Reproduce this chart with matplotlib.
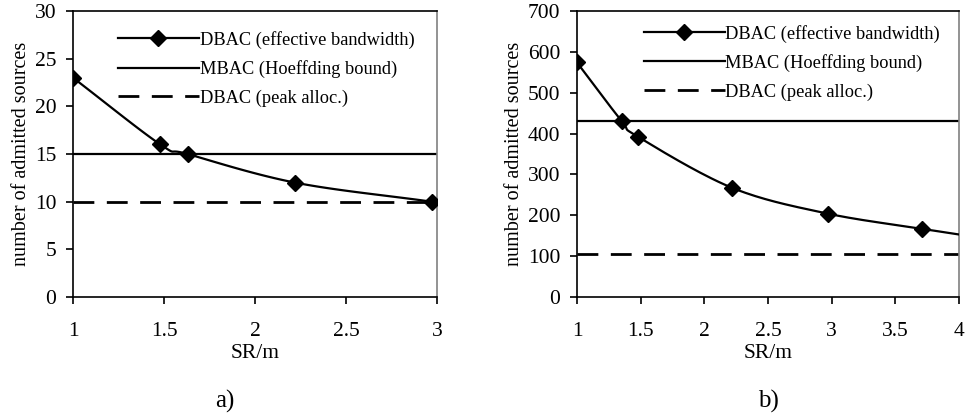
import numpy as np
import matplotlib
matplotlib.use("Agg")
import matplotlib.pyplot as plt

plt.rcParams['font.family'] = ['Liberation Serif', 'DejaVu Serif']

# panel a)
a_sr = [1.0, 1.48, 1.63, 2.22, 2.97]
a_dbac = [23, 16, 15, 12, 10]
a_mbac = 15
a_peak = 10

# panel b)  (last point at x=4 is drawn without a marker)
b_sr = [1.0, 1.35, 1.48, 2.22, 2.97, 3.71, 4.0]
b_dbac = [574, 431, 392, 267, 204, 167, 153]
b_mbac = 430
b_peak = 106

labels = ["DBAC (effective bandwidth)", "MBAC (Hoeffding bound)", "DBAC (peak alloc.)"]


def smooth(x, y, n=30):
    # Catmull-Rom through the points, like the spreadsheet "smoothed line"
    x = np.asarray(x, float)
    y = np.asarray(y, float)
    px = np.concatenate([[2 * x[0] - x[1]], x, [2 * x[-1] - x[-2]]])
    py = np.concatenate([[2 * y[0] - y[1]], y, [2 * y[-1] - y[-2]]])
    xs, ys = [], []
    t = np.linspace(0, 1, n)
    for i in range(1, len(px) - 2):
        for p, out in ((px, xs), (py, ys)):
            p0, p1, p2, p3 = p[i - 1], p[i], p[i + 1], p[i + 2]
            out.extend(0.5 * (2 * p1 + (-p0 + p2) * t
                              + (2 * p0 - 5 * p1 + 4 * p2 - p3) * t ** 2
                              + (-p0 + 3 * p1 - 3 * p2 + p3) * t ** 3))
    return xs, ys


def draw(ax, sr, dbac, mbac, peak, xlim, ylim, yticks, xticks, marked, leg_anchor):
    sx, sy = smooth(sr, dbac)
    ax.plot(sx, sy, color='black', linewidth=1.6, zorder=3)
    ax.plot(sr[:marked], dbac[:marked], linestyle='none', marker='D', markersize=8.5,
            color='black', zorder=4)
    ax.axhline(mbac, color='black', linewidth=1.6)
    ax.axhline(peak, color='black', linewidth=2.0, dashes=(7.5, 4.5))

    h1, = ax.plot([], [], color='black', linewidth=1.6, marker='D', markersize=8.5)
    h2, = ax.plot([], [], color='black', linewidth=1.6)
    h3, = ax.plot([], [], color='black', linewidth=2.0, dashes=(7.5, 4.5))
    ax.legend([h1, h2, h3], labels, loc='upper left', bbox_to_anchor=leg_anchor,
              frameon=False, fontsize=13.2, handlelength=4.4, handletextpad=0.05,
              labelspacing=0.62, borderaxespad=0, borderpad=0)

    ax.set_xlim(*xlim)
    ax.set_ylim(*ylim)
    ax.set_xticks(xticks)
    ax.set_xticklabels([f"{v:g}" for v in xticks])
    ax.set_yticks(yticks)
    ax.tick_params(axis='both', direction='out', length=5, width=1.2, labelsize=15.5)
    ax.tick_params(axis='x', pad=13)
    ax.tick_params(axis='y', pad=7)
    for s in ax.spines.values():
        s.set_linewidth(1.2)
    ax.spines['right'].set_color('#808080')
    ax.set_xlabel("SR/m", fontsize=15.5, labelpad=2)
    ax.set_ylabel("number of admitted sources", fontsize=14.5, labelpad=3)


fig = plt.figure(figsize=(9.65, 4.19), dpi=100)
ax1 = fig.add_axes([73 / 965, 1 - 297 / 419, 364 / 965, 286 / 419])
ax2 = fig.add_axes([577 / 965, 1 - 297 / 419, 382 / 965, 286 / 419])

draw(ax1, a_sr, a_dbac, a_mbac, a_peak, (1, 3), (0, 30), range(0, 31, 5),
     [1, 1.5, 2, 2.5, 3], len(a_sr), (0.124, 0.93))
draw(ax2, b_sr, b_dbac, b_mbac, b_peak, (1, 4), (0, 700), range(0, 701, 100),
     [1, 1.5, 2, 2.5, 3, 3.5, 4], len(b_sr) - 1, (0.175, 0.952))

fig.text(225 / 965, 1 - 401 / 419, "a)", fontsize=18, ha='center', va='center')
fig.text(768 / 965, 1 - 401 / 419, "b)", fontsize=18, ha='center', va='center')

fig.savefig("out.png", dpi=100)
